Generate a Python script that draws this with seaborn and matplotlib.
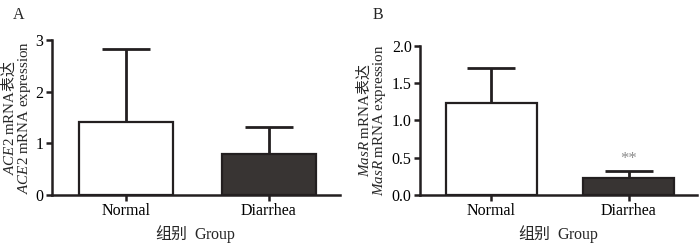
import numpy as np
import pandas as pd
import seaborn as sns
import matplotlib
matplotlib.use("Agg")
import matplotlib.pyplot as plt

# data (mean, upper SD)
groups = ["Normal", "Diarrhea"]
ace2_mean = [1.42, 0.79]
ace2_sd = [1.40, 0.53]
masr_mean = [1.24, 0.23]
masr_sd = [0.47, 0.09]

sns.set_theme(style="ticks")
plt.rcParams["font.family"] = ["Liberation Serif", "Noto Sans CJK SC"]
plt.rcParams["mathtext.fontset"] = "custom"
plt.rcParams["mathtext.rm"] = "Liberation Serif"
plt.rcParams["mathtext.it"] = "Liberation Serif:italic"

ink = "#231f20"
colors = ["white", "#393432"]

fig = plt.figure(figsize=(7, 2.47), dpi=100)
axA = fig.add_axes([0.074, 0.211, 0.412, 0.627])
axB = fig.add_axes([0.600, 0.211, 0.396, 0.603])


def draw_panel(ax, mean, sd, ylim, yticks, ticklabels, gene, letter, lx, ylx):
    df = pd.DataFrame({"group": groups, "value": mean})
    sns.barplot(data=df, x="group", y="value", hue="group", palette=colors,
                edgecolor=ink, linewidth=1.6, width=0.66, legend=False, ax=ax)
    for p in ax.patches:
        p.set_zorder(2)
    # symmetric bars drawn behind the columns, so only the upper half shows
    ax.errorbar(range(len(groups)), mean, yerr=sd, fmt="none", ecolor=ink,
                elinewidth=2, capsize=17, capthick=2, zorder=1)
    ax.set_xlim(-0.52, 1.5)
    ax.set_ylim(*ylim)
    ax.set_yticks(yticks)
    ax.set_yticklabels(ticklabels)
    sns.despine(ax=ax)
    for s in ["left", "bottom"]:
        ax.spines[s].set_color(ink)
        ax.spines[s].set_linewidth(1.8)
        ax.spines[s].set_zorder(3)
    ax.tick_params(axis="both", colors=ink, labelcolor="black", width=1.8,
                   length=4, labelsize=11.5, pad=2)
    ax.set_xlabel(r"组别  $\mathrm{Group}$", fontsize=11.5,
                  family=["Noto Sans CJK SC"], labelpad=3)
    ax.set_ylabel(r"$\mathit{%s}\ \mathrm{mRNA}$表达" % gene + "\n" +
                  r"$\mathit{%s}\ \mathrm{mRNA\ expression}$" % gene,
                  fontsize=10.8, family=["Noto Sans CJK SC"],
                  linespacing=0.95)
    ax.yaxis.set_label_coords(ylx, 0.5)
    fig.text(lx, 0.94, letter, fontsize=11.5, ha="left", va="center")


draw_panel(axA, ace2_mean, ace2_sd, (0, 3), [0, 1, 2, 3],
           ["0", "1", "2", "3"], "ACE2", "A", 0.018, -0.065)
draw_panel(axB, masr_mean, masr_sd, (0, 2), [0, 0.5, 1.0, 1.5, 2.0],
           ["0.0", "0.5", "1.0", "1.5", "2.0"], "MasR", "B", 0.532, -0.115)

axB.text(1, masr_mean[1] + masr_sd[1] + 0.06, "**", ha="center",
         va="bottom", color="#8c8c8c", fontsize=12)

fig.savefig("out.png", dpi=100)
